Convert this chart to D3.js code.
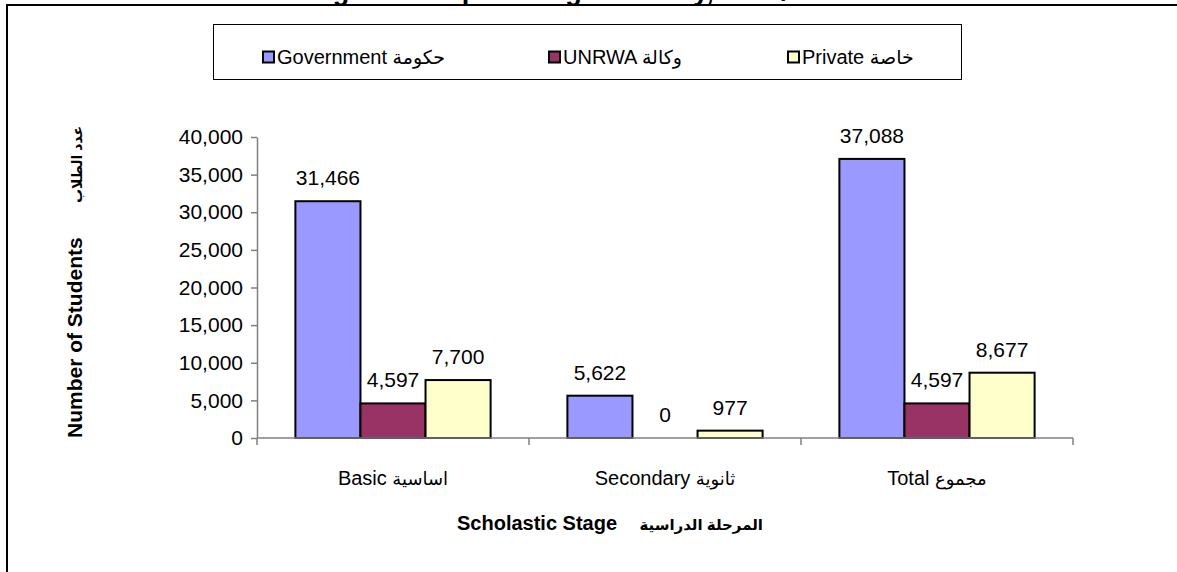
<!DOCTYPE html>
<html>
<head>
<meta charset="utf-8">
<script src="https://cdn.jsdelivr.net/npm/d3@7"></script>
<style>
  body { margin: 0; background: #fff; }
  svg { display: block; font-family: "Liberation Sans", Arial, "DejaVu Sans", sans-serif; }
</style>
</head>
<body>
<div class="chart"></div>
<script>
// data
const stagesEn = ['Basic', 'Secondary', 'Total']
const stagesAr = ['اساسية', 'ثانوية', 'مجموع']
const authEn = ['Government', 'UNRWA', 'Private']
const authAr = ['حكومة', 'وكالة', 'خاصة']
const government = [31466, 5622, 37088]
const unrwa = [4597, 0, 4597]
const privateSchools = [7700, 977, 8677]
const yTicks = [0, 5000, 10000, 15000, 20000, 25000, 30000, 35000, 40000]
const colors = ['#9999ff', '#993366', '#ffffcc']

const width = 1177
const height = 572
const margin = {top: 137, right: 104, bottom: 134, left: 257}
const graphWidth = width - margin.left - margin.right
const graphHeight = height - margin.top - margin.bottom

const series = [government, unrwa, privateSchools]
const rows = []
stagesEn.forEach((s, i) => {
  authEn.forEach((a, j) => {
    rows.push({stage: s, auth: a, idx: j, value: series[j][i]})
  })
})

const svg = d3.select('.chart')
  .append('svg')
  .attr('width', width)
  .attr('height', height)

// title, cut off at the top like in the original
const titleStr = 'Number of Students at Each Stage and Supervising Authority, 2007/2008'
const title = svg.append('text')
  .attr('y', -0.5)
  .attr('font-weight', 'bold')
  .attr('font-size', '27px')
  .text(titleStr)
// line the "p" of Supervising up with the piece seen in the original
const pIdx = titleStr.indexOf('Supervising') + 2
const tn = title.node()
const pLeft = tn.getSubStringLength(0, pIdx)
const pW = tn.getSubStringLength(pIdx, 1)
title.attr('x', 470 - pLeft - pW / 2)

// outer frame (only top and left show)
svg.append('rect')
  .attr('x', 7).attr('y', 5)
  .attr('width', 1400).attr('height', 800)
  .attr('fill', 'none')
  .attr('stroke', '#000')
  .attr('stroke-width', 2)

// legend
const legend = svg.append('g')
legend.append('rect')
  .attr('x', 213.5).attr('y', 24.5)
  .attr('width', 748).attr('height', 55)
  .attr('fill', '#fff')
  .attr('stroke', '#000')
  .attr('stroke-width', 1)

const legendX = d3.scaleOrdinal().domain(authEn).range([263, 549, 788])
const items = legend.selectAll('g.item')
  .data(authEn)
  .enter()
  .append('g')
  .attr('transform', d => `translate(${legendX(d)}, 57)`)
items.append('rect')
  .attr('x', 0).attr('y', -5.5)
  .attr('width', 11).attr('height', 11)
  .attr('fill', (d, i) => colors[i])
  .attr('stroke', '#000')
  .attr('stroke-width', 2)
const itemText = items.append('text')
  .attr('x', 14)
  .attr('dy', '.35em')
  .attr('font-size', '20px')
itemText.append('tspan').text(d => d + ' ')
itemText.append('tspan')
  .attr('font-size', '19px')
  .text((d, i) => authAr[i])

const graph = svg.append('g')
  .attr('transform', `translate(${margin.left}, ${margin.top})`)

const xScale = d3.scaleBand()
  .domain(stagesEn)
  .range([0, graphWidth])

const inner = d3.scaleBand()
  .domain(authEn)
  .range([0, xScale.bandwidth()])
  .paddingOuter(0.59)

const yScale = d3.scaleLinear()
  .domain([0, 40000])
  .range([graphHeight, 0])

// y axis
const yAxis = d3.axisLeft(yScale)
  .tickValues(yTicks)
  .tickFormat(d3.format(','))
  .tickSize(6)
  .tickSizeOuter(0)
  .tickPadding(8)
const yAxisGroup = graph.append('g').call(yAxis)
yAxisGroup.select('.domain').attr('stroke', '#808080').attr('stroke-width', 1.5)
yAxisGroup.selectAll('line').attr('stroke', '#808080').attr('stroke-width', 1.5)
yAxisGroup.selectAll('text')
  .attr('font-family', '"Liberation Sans", Arial, sans-serif')
  .attr('font-size', '21px')
  .attr('fill', '#000')

// bars
graph.selectAll('rect.bar')
  .data(rows)
  .enter()
  .append('rect')
  .attr('class', 'bar')
  .attr('x', d => xScale(d.stage) + inner(d.auth))
  .attr('y', d => yScale(d.value))
  .attr('width', inner.bandwidth())
  .attr('height', d => graphHeight - yScale(d.value))
  .attr('fill', d => colors[d.idx])
  .attr('stroke', '#000')
  .attr('stroke-width', 2)
  .attr('display', d => d.value === 0 ? 'none' : null)

// value labels
graph.selectAll('text.val')
  .data(rows)
  .enter()
  .append('text')
  .attr('class', 'val')
  .attr('x', d => xScale(d.stage) + inner(d.auth) + inner.bandwidth() / 2)
  .attr('y', d => yScale(d.value) - 16)
  .attr('text-anchor', 'middle')
  .attr('font-size', '21px')
  .text(d => d3.format(',')(d.value))

// x axis line, boundary ticks and labels
const xAxisGroup = graph.append('g')
  .attr('transform', `translate(0, ${graphHeight})`)
xAxisGroup.append('line')
  .attr('x1', 0).attr('x2', graphWidth)
  .attr('stroke', '#808080').attr('stroke-width', 1.5)
const bounds = stagesEn.map(s => xScale(s)).concat([graphWidth])
xAxisGroup.selectAll('line.tick')
  .data(bounds)
  .enter()
  .append('line')
  .attr('class', 'tick')
  .attr('x1', d => d).attr('x2', d => d)
  .attr('y1', 0).attr('y2', 7)
  .attr('stroke', '#808080').attr('stroke-width', 1.5)
const catText = xAxisGroup.selectAll('text')
  .data(stagesEn)
  .enter()
  .append('text')
  .attr('x', d => xScale(d) + xScale.bandwidth() / 2)
  .attr('y', 47)
  .attr('text-anchor', 'middle')
  .attr('font-size', '20px')
catText.append('tspan').text(d => d + ' ')
catText.append('tspan')
  .attr('font-size', '18px')
  .text((d, i) => stagesAr[i])

// axis titles
svg.append('text')
  .attr('x', 457).attr('y', 530)
  .attr('font-weight', 'bold').attr('font-size', '20px')
  .text('Scholastic Stage')
svg.append('text')
  .attr('x', 763).attr('y', 530)
  .attr('text-anchor', 'end')
  .attr('font-weight', 'bold').attr('font-size', '15px')
  .text('المرحلة الدراسية')

svg.append('text')
  .attr('transform', 'translate(82, 438) rotate(-90)')
  .attr('font-weight', 'bold').attr('font-size', '21px')
  .text('Number of Students')
svg.append('text')
  .attr('transform', 'translate(82, 203) rotate(-90)')
  .attr('font-weight', 'bold').attr('font-size', '14px')
  .text('عدد الطلاب')
</script>
</body>
</html>
